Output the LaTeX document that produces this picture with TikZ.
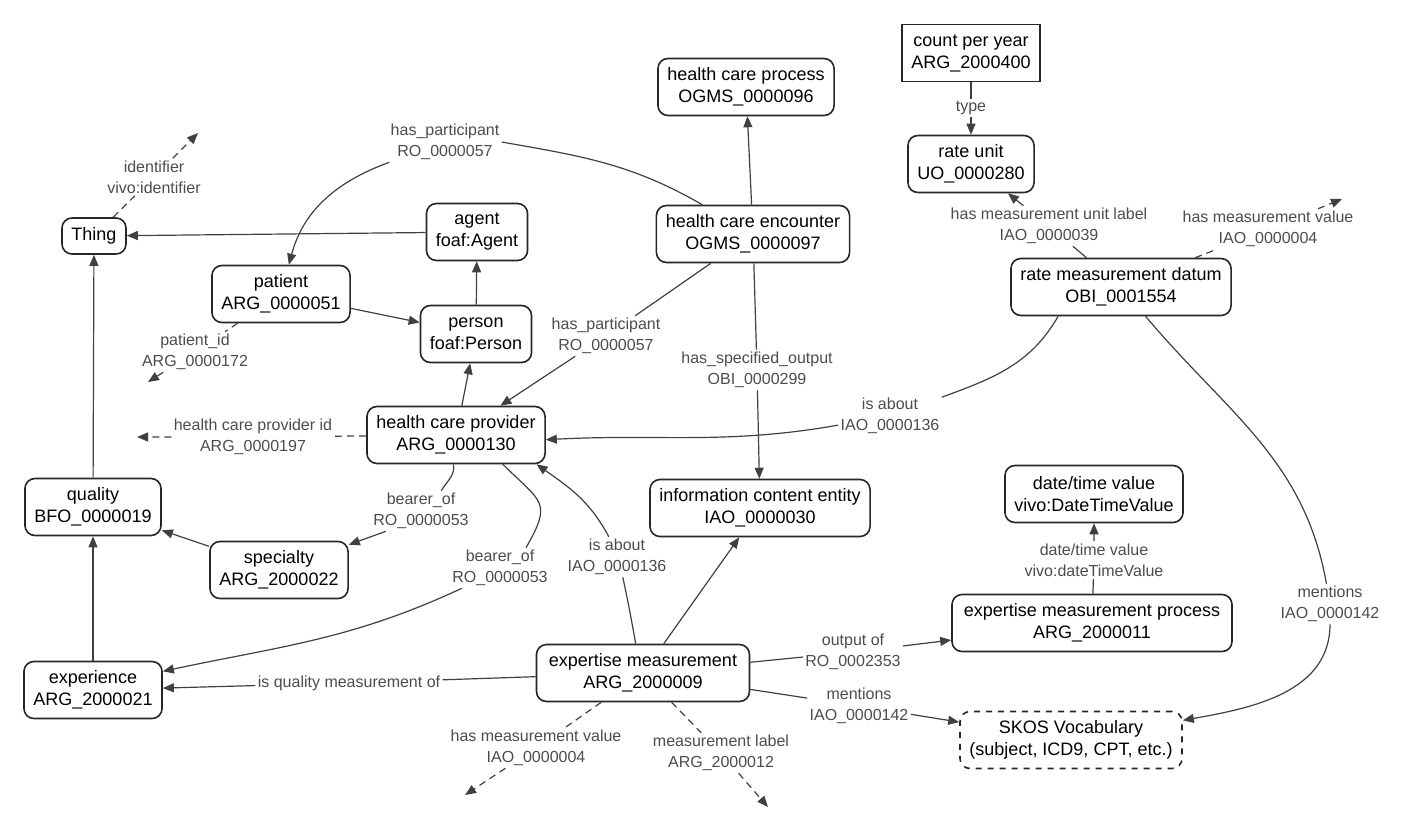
\documentclass[tikz,border=0pt]{standalone}
\usepackage{fontspec}
\setmainfont{Liberation Sans}
\usetikzlibrary{arrows.meta}

\begin{document}
\begin{tikzpicture}[x=0.5pt, y=-0.5pt,
	cls/.style={draw=black!85, line width=0.8pt, rounded corners=5pt, align=center, minimum height=28.5pt, inner xsep=4.75pt, font=\fontsize{9}{11}\selectfont},
	lbl/.style={align=center, inner sep=1pt, text=black!70, font=\fontsize{8}{10.5}\selectfont},
	rel/.style={draw=black!75, line width=0.6pt, -{Triangle[length=5.5pt,width=4.5pt]}},
	opt/.style={rel, dash pattern=on 3.5pt off 2.5pt}]
	
	%//page is 1413 x 831, y grows downwards
	\useasboundingbox (0,0) rectangle (1413,831);
	
	%//classes
	\node [cls, minimum height=18pt] (thing) at (94,236) {Thing};
	\node [cls] (agent) at (477,232) {agent\\foaf:Agent};
	\node [cls] (patient) at (281,294) {patient\\ARG\_0000051};
	\node [cls] (person) at (476,334) {person\\foaf:Person};
	\node [cls] (hcproc) at (746,87) {health care process\\OGMS\_0000096};
	\node [cls] (hce) at (753,234) {health care encounter\\OGMS\_0000097};
	\node [cls, sharp corners] (cpy) at (971,53) {count per year\\ARG\_2000400};
	\node [cls] (runit) at (971,164) {rate unit\\UO\_0000280};
	\node [cls] (rmd) at (1121,287) {rate measurement datum\\OBI\_0001554};
	\node [cls] (hcp) at (456,435) {health care provider\\ARG\_0000130};
	\node [cls] (quality) at (93,507) {quality\\BFO\_0000019};
	\node [cls] (specialty) at (279,570) {specialty\\ARG\_2000022};
	\node [cls] (ice) at (760,508) {information content entity\\IAO\_0000030};
	\node [cls] (dtv) at (1094,494) {date/time value\\vivo:DateTimeValue};
	\node [cls, minimum width=140pt] (emp) at (1092,623) {expertise measurement process\\ARG\_2000011};
	\node [cls] (exper) at (93,690) {experience\\ARG\_2000021};
	\node [cls, minimum width=106.5pt] (em) at (643,673) {expertise measurement\\ARG\_2000009};
	\node [cls, dashed] (skos) at (1071,740) {SKOS Vocabulary\\(subject, ICD9, CPT, etc.)};
	
	%//edge labels
	\node [lbl] (lident) at (154,177) {identifier\\vivo:identifier};
	\node [lbl] (lpid) at (195,352) {patient\_id\\ARG\_0000172};
	\node [lbl] (lhcpid) at (253,437) {health care provider id\\ARG\_0000197};
	\node [lbl] (lpart1) at (445,142) {has\_participant\\RO\_0000057};
	\node [lbl] (lpart2) at (606,336) {has\_participant\\RO\_0000057};
	\node [lbl] (lout) at (757,370) {has\_specified\_output\\OBI\_0000299};
	\node [lbl] (ltype) at (971,108) {type};
	\node [lbl] (lunit) at (1049,226) {has measurement unit label\\IAO\_0000039};
	\node [lbl] (lrval) at (1268,229) {has measurement value\\IAO\_0000004};
	\node [lbl] (labout1) at (890,416) {is about\\IAO\_0000136};
	\node [lbl] (lment1) at (1330,604) {mentions\\IAO\_0000142};
	\node [lbl] (lbear1) at (421,511) {bearer\_of\\RO\_0000053};
	\node [lbl] (lbear2) at (500,568) {bearer\_of\\RO\_0000053};
	\node [lbl] (labout2) at (617,557) {is about\\IAO\_0000136};
	\node [lbl] (lqual) at (349,683) {is quality measurement of};
	\node [lbl] (loutof) at (853,652) {output of\\RO\_0002353};
	\node [lbl] (lment2) at (859,706) {mentions\\IAO\_0000142};
	\node [lbl] (lmval) at (536,748) {has measurement value\\IAO\_0000004};
	\node [lbl] (lmlab) at (721,753) {measurement label\\ARG\_2000012};
	\node [lbl] (ldtv) at (1094,560) {date/time value\\vivo:dateTimeValue};
	
	%//loose ends of data properties
	\coordinate (eident) at (198,133);
	\coordinate (epid) at (148,382);
	\coordinate (ehcpid) at (137,437);
	\coordinate (erval) at (1342,199);
	\coordinate (emval) at (465,795);
	\coordinate (emlab) at (768,807);
	
	%//subclass links
	\draw [rel] (agent) -- (thing);
	\draw [rel] (quality) -- (thing);
	\draw [rel] (exper) -- (quality);
	\draw [rel] (specialty) -- (quality);
	\draw [rel] (patient) -- (person);
	\draw [rel] (person) -- (agent);
	\draw [rel] (hcp) -- (person);
	\draw [rel] (hce) -- (hcproc);
	\draw [rel] (em) -- (ice);
	
	%//object properties
	\draw [rel] (hce) to[out=150,in=-10] (lpart1.east) (lpart1) to[out=200,in=75] (patient);
	\draw [rel] (hce) -- (lpart2) -- (hcp);
	\draw [rel] (hce) -- (lout) -- (ice);
	\draw [rel] (cpy) -- (ltype) -- (runit);
	\draw [rel] (rmd) -- (lunit) -- (runit);
	\draw [rel] (rmd.205) to[out=240,in=20] (labout1) to[out=190,in=3] (hcp.-3);
	\draw [rel] (rmd) to[out=-50,in=100] (lment1) to[out=-90,in=10] (skos);
	\draw [rel] (hcp.-95) to[out=-80,in=60] (lbear1.45) (lbear1.210) -- (specialty);
	\draw [rel] (hcp.-32) to[out=-45,in=60,looseness=1.6] (lbear2.38) (lbear2.208) to[out=205,in=12] (exper.15);
	\draw [rel] (em.104) to[out=100,in=-78] (labout2.-74) (labout2.112) to[out=118,in=-35] (hcp.-20);
	\draw [rel] (em) -- (lqual) -- (exper);
	\draw [rel] (em) -- (loutof) -- (emp);
	\draw [rel] (em) -- (lment2) -- (skos);
	\draw [rel] (emp) -- (ldtv) -- (dtv);
	
	%//data properties
	\draw [opt] (thing) -- (lident) -- (eident);
	\draw [opt] (patient) -- (lpid) -- (epid);
	\draw [opt] (hcp) -- (lhcpid) -- (ehcpid);
	\draw [opt] (rmd) -- (lrval) -- (erval);
	\draw [opt] (em) -- (lmval) -- (emval);
	\draw [opt] (em) -- (lmlab) -- (emlab);
	
\end{tikzpicture}
\end{document}
